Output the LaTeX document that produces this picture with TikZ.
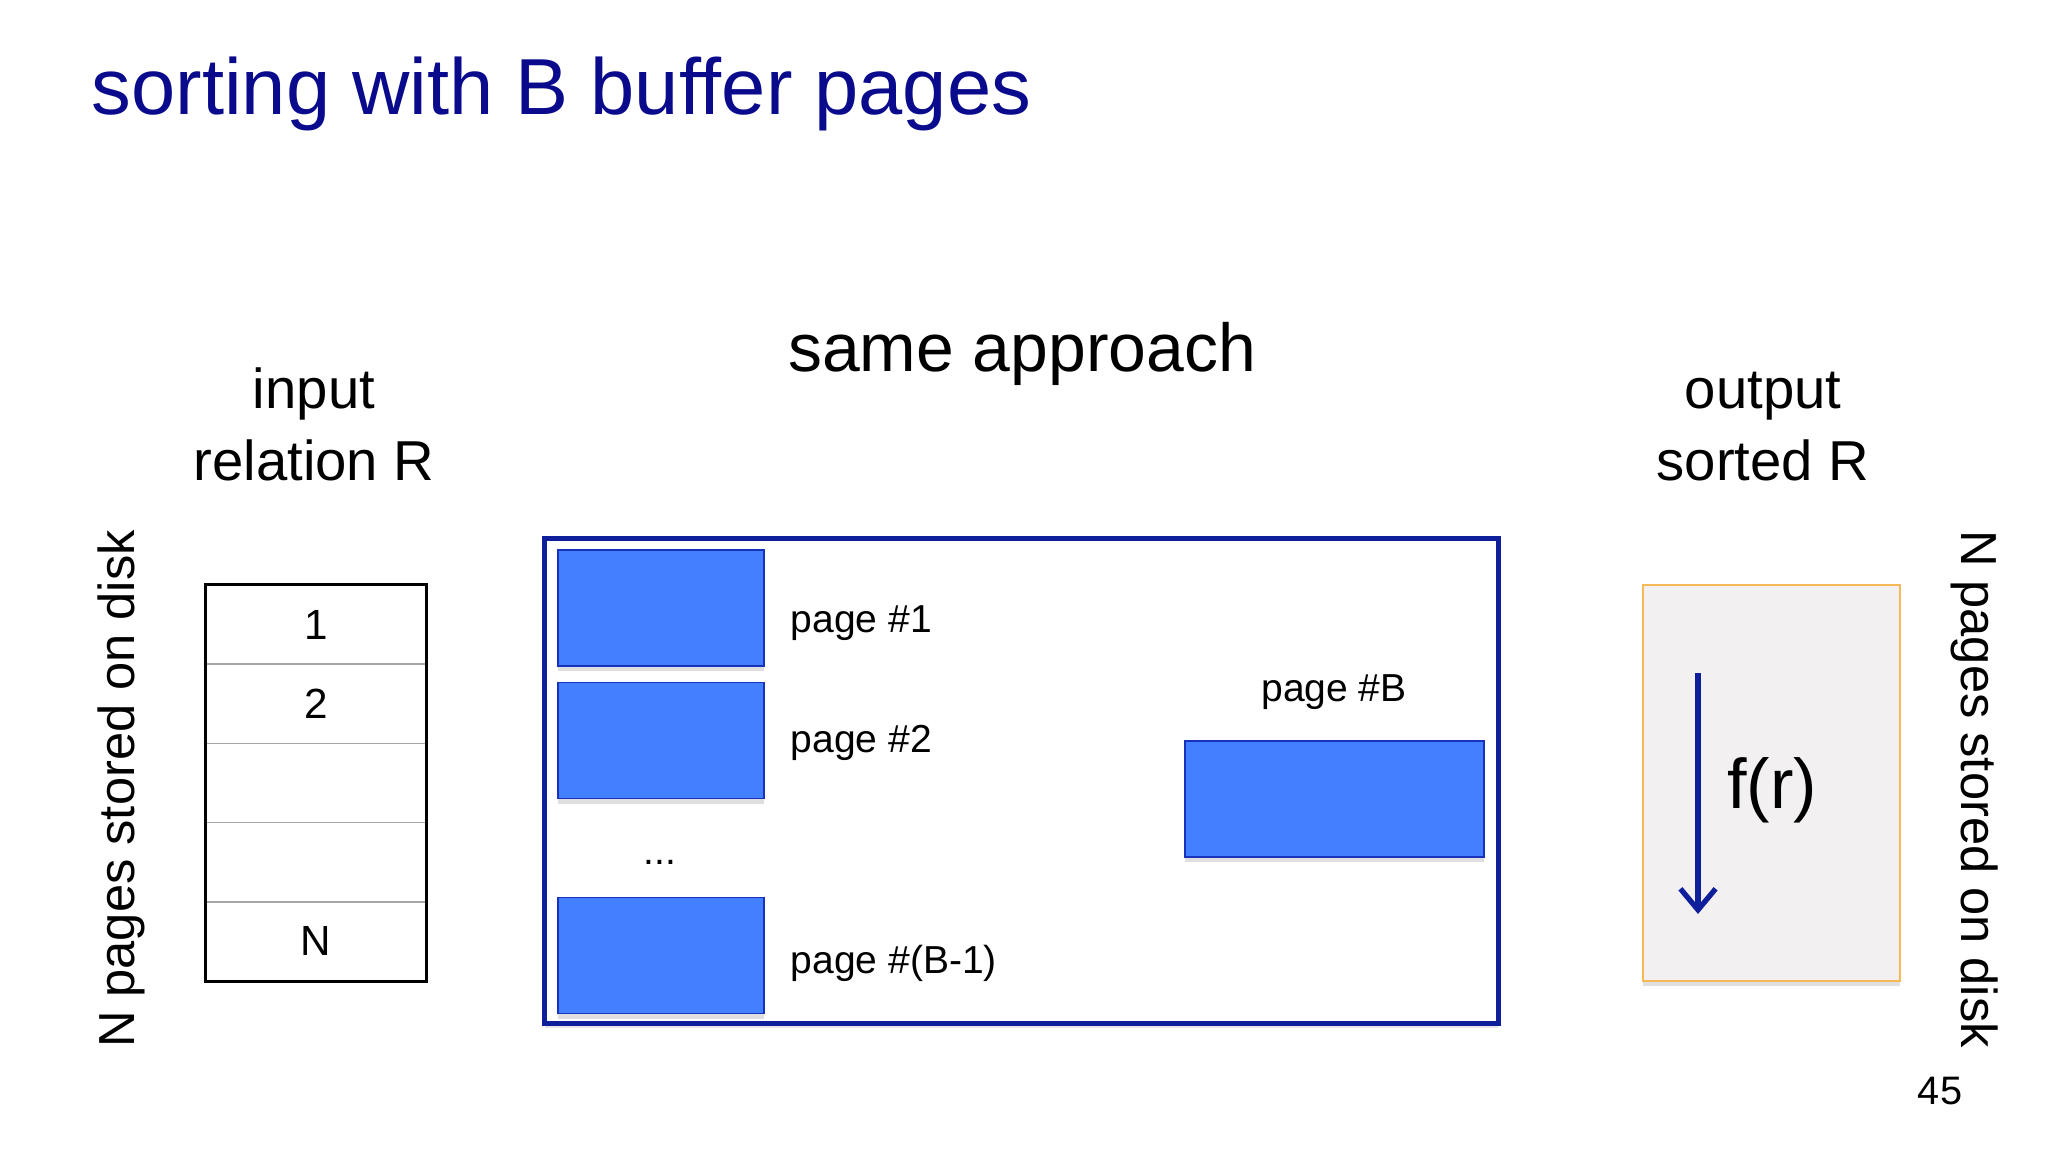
\documentclass[tikz,border=0pt]{standalone}
\usepackage{fontspec}
\setmainfont{Liberation Sans}
\usetikzlibrary{arrows.meta,shapes,shadows}
\definecolor{titleblue}{RGB}{10,10,140}
\definecolor{pagefill}{RGB}{66,128,255}
\definecolor{pageline}{RGB}{25,50,190}
\definecolor{bufline}{RGB}{15,30,155}
\definecolor{outfill}{RGB}{242,240,240}
\definecolor{outedge}{RGB}{245,185,85}
\tikzstyle{txt}=[inner sep=0pt,font=\fontsize{11.1}{13}\selectfont]
\tikzstyle{head}=[inner sep=0pt,font=\fontsize{16}{19}\selectfont]
\tikzstyle{side}=[inner sep=0pt,font=\fontsize{14.4}{17}\selectfont]
\tikzstyle{row}=[draw=gray!70,minimum width=2.19cm,minimum height=0.792cm,inner sep=0pt,font=\fontsize{12}{14}\selectfont]
\tikzstyle{bufpage}=[draw=pageline,fill=pagefill,minimum height=1.16cm,inner sep=0pt,drop shadow={shadow xshift=0pt,shadow yshift=-1.5pt,opacity=0.25}]

\begin{document}
\begin{tikzpicture}[x=0.01cm,y=-0.01cm]
    \fill[white] (0,0) rectangle (2048,1152);
    \useasboundingbox (0,0) rectangle (2048,1152);

    % Title and headings
    \node[anchor=base west,inner sep=0pt,text=titleblue,font=\fontsize{22.6}{27}\selectfont] (title) at (91,115) {sorting with B buffer pages};
    \node[anchor=base,inner sep=0pt,font=\fontsize{19.3}{23}\selectfont] (approach) at (1022,372) {same approach};
    \node[head,anchor=base] (in1) at (314,409) {input};
    \node[head,anchor=base] (in2) at (314,481) {relation R};
    \node[head,anchor=base] (out1) at (1763,409) {output};
    \node[head,anchor=base] (out2) at (1763,481) {sorted R};
    \node[side,anchor=base,rotate=90] (diskL) at (134,789) {N pages stored on disk};
    \node[side,anchor=base,rotate=-90] (diskR) at (1961,789) {N pages stored on disk};
    \node[txt,font=\fontsize{11.3}{13}\selectfont] (num) at (1940,1091) {45};

    % Input relation, one row per page
    \foreach \y/\name/\txt in {624.6/r1/1, 703.8/r2/2, 783/r3/{}, 862.2/r4/{}, 941.4/rN/N}
        \node[row] (\name) at (316,\y) {\txt};
    \draw[line width=1pt] (r1.north west) rectangle (rN.south east);

    % Buffer with B pages
    \node[draw=bufline,line width=1.5pt,minimum width=9.53cm,minimum height=4.84cm,drop shadow={shadow xshift=0pt,shadow yshift=-1.5pt,opacity=0.2},fill=white] (buffer) at (1021.5,781) {};
    \foreach \y/\name in {608/p1, 740.5/p2, 955.5/pB1}
        \node[bufpage,minimum width=2.06cm] (\name) at (661,\y) {};
    \node[bufpage,minimum width=2.99cm] (pB) at (1334.5,799) {};

    \node[txt,anchor=west] (l1) at (790,623) {page \#1};
    \node[txt,anchor=west] (l2) at (790,743) {page \#2};
    \node[txt] (dots) at (660,862) {...};
    \node[txt,anchor=west] (lB1) at (790,963) {page \#(B-1)};
    \node[txt] (lB) at (1334,692) {page \#B};

    % Output, sorted by f(r)
    \node[draw=outedge,fill=outfill,minimum width=2.57cm,minimum height=3.96cm,drop shadow={shadow xshift=0pt,shadow yshift=-1.5pt,opacity=0.25}] (out) at (1771.5,783) {};
    \coordinate (atop) at (1698,673);
    \coordinate (abot) at (1698,914);
    \draw[bufline,line width=1.5pt,-{Straight Barb[length=6pt,width=10pt]}] (atop) -- (abot);
    \node[inner sep=0pt,font=\fontsize{20}{24}\selectfont] (fr) at (1772,790) {f(r)};

\end{tikzpicture}
\end{document}
